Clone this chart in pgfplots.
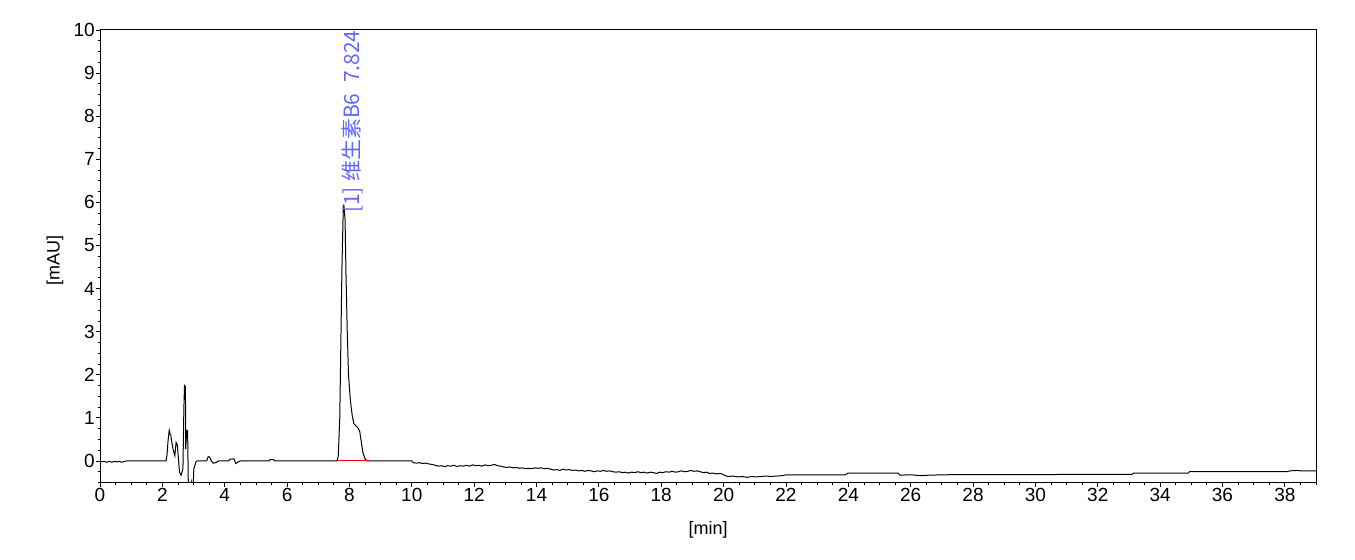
\documentclass[border=0pt]{standalone}
\usepackage{pgfplots}
\pgfplotsset{compat=1.18}
\usepackage{fontspec}
\setmainfont{Liberation Sans}
\newfontfamily\cjk{Noto Sans CJK SC}
\definecolor{labelblue}{RGB}{100,100,255}
\begin{document}
\begin{tikzpicture}
\begin{axis}[
  name=ax,
  scale only axis,
  width=1216pt, height=452.5pt,
  xmin=0, xmax=39, ymin=-0.5, ymax=10,
  xtick distance=2, ytick distance=1,
  minor x tick num=3, minor y tick num=3,
  tick align=outside,
  xtick pos=bottom, ytick pos=left,
  major tick length=4pt, minor tick length=2pt,
  every tick/.style={black, line width=0.8pt},
  axis line style={line width=1pt},
  tick label style={font=\fontsize{19}{21}\selectfont},
  label style={font=\fontsize{18}{20}\selectfont},
  /pgf/number format/assume math mode=true,
  yticklabel style={inner xsep=1pt},
  xticklabel style={inner ysep=2pt},
  xlabel={[min]}, ylabel={[mAU]},
  xlabel style={at={(axis description cs:0.5,-0.105)}, anchor=center},
  ylabel style={at={(axis description cs:-0.037,0.49)}, anchor=center},
  clip=true,
]
\addplot[black, line width=1pt] coordinates {
(0,-0.02)(0.15,-0.01)(0.2,-0.03)(0.3,-0.01)(0.38,-0.03)(0.45,-0.01)(0.55,-0.02)(0.62,-0.01)(0.7,-0.03)(0.78,-0.01)(0.85,0)
(2.12,0)(2.15,0.15)(2.18,0.45)(2.22,0.71)(2.25,0.62)(2.27,0.6)(2.3,0.45)(2.35,0.25)(2.4,0.12)(2.44,0.43)(2.48,0.37)(2.5,0.19)
(2.55,-0.26)(2.6,-0.33)(2.66,-0.18)(2.69,1.21)(2.71,1.75)(2.74,1.72)(2.75,0.28)(2.78,0.71)(2.81,0.7)(2.83,-0.42)(2.86,-0.7)
(2.9,-0.65)(2.93,-0.5)(2.96,-0.7)(2.99,-0.55)(3.01,-0.18)(3.08,-0.02)(3.12,0)
(3.42,0)(3.47,0.1)(3.52,0.09)(3.57,0.0)(3.63,-0.05)(3.72,-0.04)(3.8,0)
(4.12,0)(4.17,0.04)(4.3,0.05)(4.35,-0.06)(4.44,-0.02)(4.5,0)
(5.42,0)(5.45,0.03)(5.57,0.03)(5.6,0)
(7.6,0)(7.64,0.1)(7.69,1.0)(7.72,2.5)(7.76,4.5)(7.8,5.8)(7.82,5.95)(7.86,5.6)(7.89,4.3)(7.93,3.0)(7.97,2.0)
(8.03,1.4)(8.09,1.05)(8.14,0.87)(8.2,0.82)(8.28,0.76)(8.33,0.68)(8.38,0.45)(8.43,0.2)(8.5,0.05)(8.56,0)
(10.00,0.00)(10.05,-0.04)(10.15,-0.05)(10.25,-0.04)(10.35,-0.06)(10.45,-0.05)(10.55,-0.07)(10.65,-0.08)(10.75,-0.10)
(10.85,-0.12)(10.95,-0.11)(11.05,-0.13)(11.15,-0.11)(11.25,-0.12)(11.35,-0.10)(11.45,-0.13)(11.55,-0.11)(11.65,-0.12)
(11.75,-0.10)(11.85,-0.12)(11.95,-0.09)(12.05,-0.11)(12.15,-0.10)(12.25,-0.12)(12.35,-0.09)(12.45,-0.11)(12.55,-0.10)
(12.65,-0.08)(12.75,-0.11)(12.85,-0.12)(12.95,-0.14)(13.05,-0.15)(13.15,-0.14)(13.25,-0.16)(13.35,-0.15)(13.45,-0.17)
(13.55,-0.16)(13.65,-0.18)(13.75,-0.17)(13.85,-0.18)(13.95,-0.16)(14.05,-0.17)(14.15,-0.16)(14.25,-0.18)(14.35,-0.17)
(14.45,-0.19)(14.55,-0.21)(14.65,-0.20)(14.75,-0.22)(14.85,-0.19)(14.95,-0.21)(15.05,-0.20)(15.15,-0.22)(15.25,-0.21)
(15.35,-0.23)(15.45,-0.22)(15.55,-0.24)(15.65,-0.22)(15.75,-0.23)(15.85,-0.25)(15.95,-0.23)(16.05,-0.24)(16.15,-0.22)
(16.25,-0.24)(16.35,-0.23)(16.45,-0.25)(16.55,-0.26)(16.65,-0.25)(16.75,-0.27)(16.85,-0.26)(16.95,-0.28)(17.05,-0.26)
(17.15,-0.27)(17.25,-0.25)(17.35,-0.27)(17.45,-0.26)(17.55,-0.28)(17.65,-0.26)(17.75,-0.27)(17.85,-0.29)(17.95,-0.26)
(18.05,-0.27)(18.15,-0.25)(18.25,-0.26)(18.35,-0.24)(18.45,-0.26)(18.55,-0.25)(18.65,-0.23)(18.75,-0.25)(18.85,-0.24)
(18.95,-0.22)(19.05,-0.24)(19.15,-0.23)(19.25,-0.25)(19.35,-0.27)(19.45,-0.26)(19.55,-0.29)(19.65,-0.28)(19.75,-0.30)
(19.85,-0.29)(19.95,-0.30)(20.05,-0.34)(20.15,-0.36)(20.3,-0.35)(20.45,-0.37)(20.6,-0.36)(20.75,-0.38)(20.9,-0.36)
(21.05,-0.37)(21.2,-0.36)(21.35,-0.35)(21.5,-0.36)(21.7,-0.35)(21.9,-0.34)(22.0,-0.32)(23.9,-0.32)(24.0,-0.28)
(25.6,-0.28)(25.65,-0.33)(26.0,-0.32)(26.3,-0.34)(26.6,-0.33)(27.1,-0.32)(33.1,-0.31)(33.15,-0.28)(34.9,-0.28)
(34.95,-0.245)(38.1,-0.245)(38.15,-0.23)(38.4,-0.22)(38.5,-0.23)(39,-0.23)
};
\addplot[red, line width=1pt] coordinates {(7.6,0)(8.65,0)};
\node[rotate=90, anchor=base west, text=labelblue, inner sep=0pt,
  font=\cjk\fontsize{21}{21}\selectfont] at (axis cs:8.31,5.75)
  {[1]\hspace{0.25em}维生素B6\hspace{0.5em}7.824};
\end{axis}
\path[use as bounding box] ([xshift=-100pt,yshift=-76.5pt]ax.south west) rectangle ([xshift=39pt,yshift=30pt]ax.north east);
\end{tikzpicture}
\end{document}
